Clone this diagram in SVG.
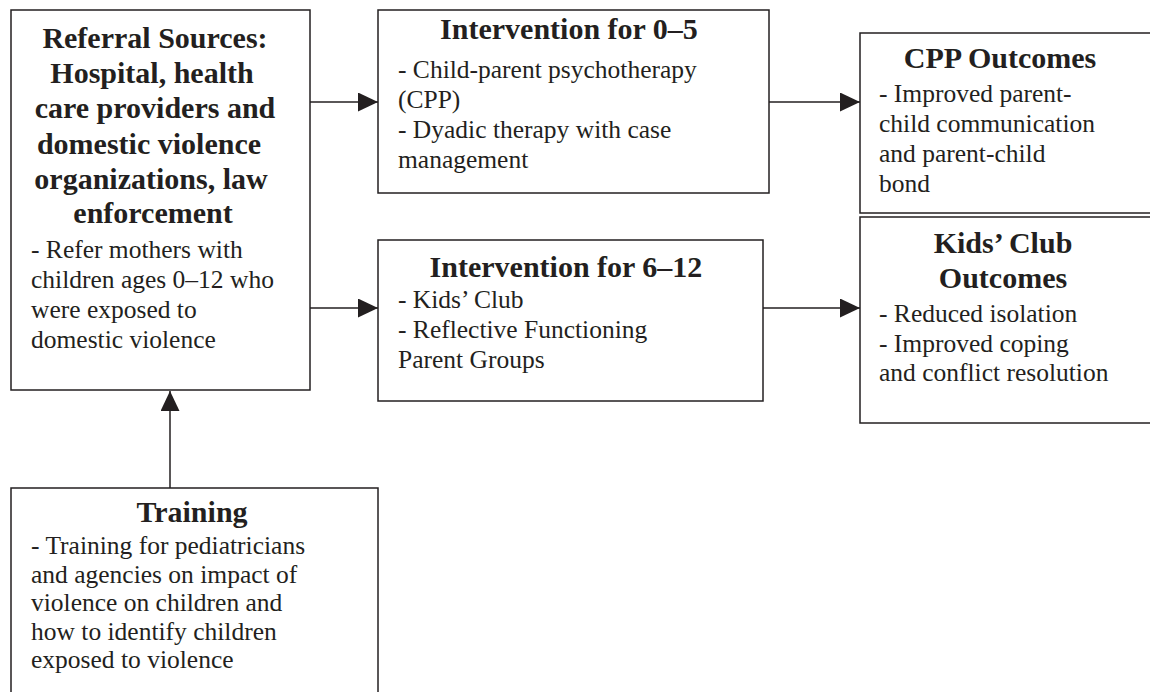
<svg xmlns="http://www.w3.org/2000/svg" width="1150" height="692" viewBox="0 0 1150 692">
<style>
.box{fill:#ffffff;stroke:#231f20;stroke-width:1.5}
.t{font-family:"Liberation Serif","Times New Roman",serif;font-weight:bold;font-size:30px;fill:#231f20;text-anchor:middle}
.b{font-family:"Liberation Serif","Times New Roman",serif;font-size:25.5px;fill:#231f20}
.c{stroke:#231f20;stroke-width:1.5;fill:none}
</style>
<defs>
<marker id="ah" markerUnits="userSpaceOnUse" markerWidth="20" markerHeight="19" refX="20" refY="9.5" orient="auto">
<path d="M0,0 L20,9.5 L0,19 z" fill="#231f20"/>
</marker>
</defs>
<rect width="1150" height="692" fill="#ffffff"/>
<g id="connectors">
<line class="c" x1="310" y1="102" x2="378" y2="102" marker-end="url(#ah)"/>
<line class="c" x1="310" y1="308" x2="378" y2="308" marker-end="url(#ah)"/>
<line class="c" x1="769" y1="102" x2="860" y2="102" marker-end="url(#ah)"/>
<line class="c" x1="763" y1="308" x2="860" y2="308" marker-end="url(#ah)"/>
<line class="c" x1="170" y1="488" x2="170" y2="391" marker-end="url(#ah)"/>
</g>
<g id="referral">
<rect class="box" x="11" y="10" width="299" height="380"/>
<text class="t" x="155" y="48">Referral Sources:</text>
<text class="t" x="152" y="83">Hospital, health</text>
<text class="t" x="155" y="118">care providers and</text>
<text class="t" x="149" y="154">domestic violence</text>
<text class="t" x="151" y="189">organizations, law</text>
<text class="t" x="153" y="223">enforcement</text>
<text class="b" x="31" y="258">- Refer mothers with</text>
<text class="b" x="31" y="288">children ages 0–12 who</text>
<text class="b" x="31" y="318">were exposed to</text>
<text class="b" x="31" y="348">domestic violence</text>
</g>
<g id="intervention05">
<rect class="box" x="378" y="10" width="391" height="183"/>
<text class="t" x="569" y="39">Intervention for 0–5</text>
<text class="b" x="398" y="78">- Child-parent psychotherapy</text>
<text class="b" x="398" y="108">(CPP)</text>
<text class="b" x="398" y="138">- Dyadic therapy with case</text>
<text class="b" x="398" y="168">management</text>
</g>
<g id="intervention612">
<rect class="box" x="378" y="240" width="385" height="161"/>
<text class="t" x="566" y="277">Intervention for 6–12</text>
<text class="b" x="398" y="308">- Kids’ Club</text>
<text class="b" x="398" y="338">- Reflective Functioning</text>
<text class="b" x="398" y="368">Parent Groups</text>
</g>
<g id="cppOutcomes">
<rect class="box" x="860" y="33" width="300" height="180"/>
<text class="t" x="1000" y="68">CPP Outcomes</text>
<text class="b" x="879" y="102">- Improved parent-</text>
<text class="b" x="879" y="132">child communication</text>
<text class="b" x="879" y="162">and parent-child</text>
<text class="b" x="879" y="192">bond</text>
</g>
<g id="kidsOutcomes">
<rect class="box" x="860" y="217" width="300" height="206"/>
<text class="t" x="1003" y="253">Kids’ Club</text>
<text class="t" x="1003" y="288">Outcomes</text>
<text class="b" x="879" y="322">- Reduced isolation</text>
<text class="b" x="879" y="352">- Improved coping</text>
<text class="b" x="879" y="381">and conflict resolution</text>
</g>
<g id="training">
<rect class="box" x="11" y="488" width="367" height="220"/>
<text class="t" x="192" y="522">Training</text>
<text class="b" x="31" y="554">- Training for pediatricians</text>
<text class="b" x="31" y="583">and agencies on impact of</text>
<text class="b" x="31" y="611">violence on children and</text>
<text class="b" x="31" y="640">how to identify children</text>
<text class="b" x="31" y="668">exposed to violence</text>
</g>
</svg>
